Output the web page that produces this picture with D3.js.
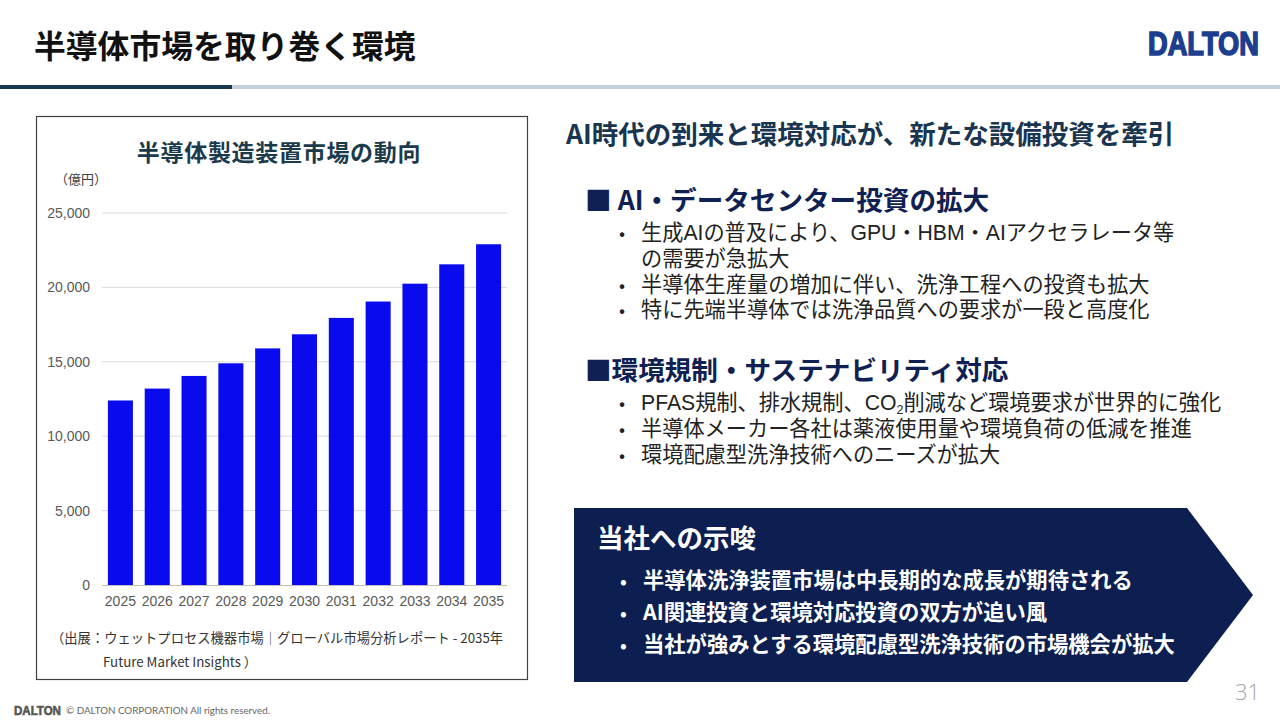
<!DOCTYPE html>
<html lang="ja">
<head>
<meta charset="utf-8">
<script src="https://cdn.jsdelivr.net/npm/d3@7"></script>
<style>
  body { margin: 0; background: #fff; }
  svg { display: block; }
</style>
</head>
<body>
<div id="slide"></div>
<script>
// chart data
const years = ["2025", "2026", "2027", "2028", "2029", "2030", "2031", "2032", "2033", "2034", "2035"]
const marketValues = [12400, 13200, 14050, 14900, 15900, 16850, 17950, 19050, 20250, 21550, 22900]
const yTicks = [0, 5000, 10000, 15000, 20000, 25000]

// slide texts
const pageTitle = "半導体市場を取り巻く環境"
const chartTitle = "半導体製造装置市場の動向"
const unitLabel = "（億円）"
const sourceLines = ["（出展：ウェットプロセス機器市場｜グローバル市場分析レポート - 2035年", "Future Market Insights ）"]
const leadText = "AI時代の到来と環境対応が、新たな設備投資を牽引"
const section1Title = "■ AI・データセンター投資の拡大"
const section1Items = [
    ["生成AIの普及により、GPU・HBM・AIアクセラレータ等", "の需要が急拡大"],
    ["半導体生産量の増加に伴い、洗浄工程への投資も拡大"],
    ["特に先端半導体では洗浄品質への要求が一段と高度化"]
]
const section2Title = "■環境規制・サステナビリティ対応"
const section2Items = [
    ["PFAS規制、排水規制、CO|2|削減など環境要求が世界的に強化"],
    ["半導体メーカー各社は薬液使用量や環境負荷の低減を推進"],
    ["環境配慮型洗浄技術へのニーズが拡大"]
]
const boxTitle = "当社への示唆"
const boxItems = [
    "半導体洗浄装置市場は中長期的な成長が期待される",
    "AI関連投資と環境対応投資の双方が追い風",
    "当社が強みとする環境配慮型洗浄技術の市場機会が拡大"
]
const pageNumber = "31"

const JP = "'Noto Sans CJK JP', 'Noto Sans', sans-serif"
const LAT = "'Liberation Sans', 'Noto Sans CJK JP', sans-serif"
const NAVY = "#0c1f50"

const W = 1280, H = 720
const svg = d3.select("#slide").append("svg")
    .attr("width", W)
    .attr("height", H)
    .attr("viewBox", `0 0 ${W} ${H}`)

// ---- header ----
svg.append("text")
    .attr("x", 34).attr("y", 58)
    .attr("font-family", JP).attr("font-weight", 700)
    .attr("font-size", 31.8).attr("fill", "#111")
    .text(pageTitle)

svg.append("rect").attr("x", 232).attr("y", 85).attr("width", W - 232).attr("height", 4).attr("fill", "#c5d0da")
svg.append("rect").attr("x", 0).attr("y", 85).attr("width", 232).attr("height", 4).attr("fill", "#16394f")

// logo word, squeezed horizontally to the wanted width
const logo = (g, x, y, w, size, color, sw) => {
    const lg = g.append("g")
    const t = lg.append("text")
        .attr("font-family", "'Liberation Sans', sans-serif").attr("font-weight", 700)
        .attr("font-size", size).attr("fill", color)
        .attr("stroke", color).attr("stroke-width", sw)
        .text("DALTON")
    const sx = w / t.node().getComputedTextLength()
    lg.attr("transform", `translate(${x},${y}) scale(${sx},1)`)
}
logo(svg, 1148, 55, 111, 33, "#1b3f8e", 1.6)

// ---- chart panel ----
svg.append("rect")
    .attr("x", 36.5).attr("y", 116.5).attr("width", 491).attr("height", 563)
    .attr("fill", "#fff").attr("stroke", "#404040").attr("stroke-width", 1.2)

svg.append("text")
    .attr("x", 279).attr("y", 161)
    .attr("text-anchor", "middle")
    .attr("font-family", JP).attr("font-weight", 700)
    .attr("font-size", 23).attr("letter-spacing", 0.7).attr("fill", "#1b3a4b")
    .text(chartTitle)

svg.append("text")
    .attr("x", 55).attr("y", 184)
    .attr("font-family", JP).attr("font-size", 13).attr("fill", "#404040")
    .text(unitLabel)

const plot = { left: 102, right: 507, top: 213, bottom: 585 }

const x = d3.scaleBand()
    .domain(years)
    .range([plot.left, plot.right])
    .paddingInner(0.32)
    .paddingOuter(0.16)

const y = d3.scaleLinear()
    .domain([0, 25000])
    .range([plot.bottom, plot.top])

// gridlines
svg.append("g")
    .selectAll("line")
    .data(yTicks.slice(1))
    .enter()
    .append("line")
    .attr("x1", plot.left).attr("x2", plot.right)
    .attr("y1", d => y(d)).attr("y2", d => y(d))
    .attr("stroke", "#d9d9d9").attr("stroke-width", 1)

// y axis labels
const yAxis = svg.append("g")
    .attr("transform", `translate(${plot.left},0)`)
    .call(d3.axisLeft(y).tickValues(yTicks).tickSize(0).tickPadding(12).tickFormat(d3.format(",")))
yAxis.select(".domain").remove()
yAxis.selectAll("text")
    .attr("font-family", LAT).attr("font-size", 14).attr("fill", "#595959")

// bars
svg.append("g")
    .selectAll("rect")
    .data(marketValues)
    .enter()
    .append("rect")
    .attr("x", (_d, i) => x(years[i]))
    .attr("y", d => y(d))
    .attr("width", x.bandwidth())
    .attr("height", d => y(0) - y(d))
    .attr("fill", "#0a0aee")

// x axis
const xAxis = svg.append("g")
    .attr("transform", `translate(0,${plot.bottom})`)
    .call(d3.axisBottom(x).tickSize(0).tickPadding(11))
xAxis.select(".domain")
    .attr("stroke", "#bfbfbf").attr("d", `M${plot.left},0.5H${plot.right}`)
xAxis.selectAll("text")
    .attr("font-family", LAT).attr("font-size", 14).attr("fill", "#595959")

// source note
svg.append("g")
    .selectAll("text")
    .data(sourceLines)
    .enter()
    .append("text")
    .attr("x", (_d, i) => i === 0 ? 51 : 103)
    .attr("y", (_d, i) => 643 + i * 24)
    .attr("font-family", JP).attr("font-size", 13.3).attr("fill", "#333")
    .text(d => d)

// ---- right column ----
svg.append("text")
    .attr("x", 566).attr("y", 144)
    .attr("font-family", JP).attr("font-weight", 700)
    .attr("font-size", 26.5).attr("fill", "#1a3550")
    .text(leadText)

const section = (title, items, top, titleSize) => {
    svg.append("text")
        .attr("x", 585).attr("y", top)
        .attr("font-family", JP).attr("font-weight", 700)
        .attr("font-size", titleSize).attr("fill", "#0f2152")
        .text(title)
    let row = 0
    items.forEach(lines => {
        lines.forEach((line, li) => {
            const ly = top + 30 + row * 25.8
            if (li === 0) {
                svg.append("text")
                    .attr("x", 619).attr("y", ly)
                    .attr("font-family", JP).attr("font-size", 18).attr("fill", "#222")
                    .text("•")
            }
            const t = svg.append("text")
                .attr("x", 641).attr("y", ly)
                .attr("font-family", LAT).attr("font-size", 21.2).attr("fill", "#222")
            // "|" marks a subscript run
            line.split("|").forEach((part, pi) => {
                const span = t.append("tspan").text(part)
                if (pi % 2 === 1) span.attr("font-size", 12.5).attr("dy", 4)
                else if (pi > 0) span.attr("dy", -4)
            })
            row += 1
        })
    })
}
section(section1Title, section1Items, 210, 26.6)
section(section2Title, section2Items, 380, 26.6)

// ---- implication box ----
const arrow = d3.path()
arrow.moveTo(574, 508)
arrow.lineTo(1187, 508)
arrow.lineTo(1253, 595)
arrow.lineTo(1187, 682)
arrow.lineTo(574, 682)
arrow.closePath()
svg.append("path").attr("d", arrow.toString()).attr("fill", NAVY)

svg.append("text")
    .attr("x", 597).attr("y", 548)
    .attr("font-family", JP).attr("font-weight", 700)
    .attr("font-size", 26.5).attr("fill", "#fff")
    .text(boxTitle)

const boxRows = svg.append("g")
    .selectAll("g")
    .data(boxItems)
    .enter()
    .append("g")
    .attr("transform", (_d, i) => `translate(0,${588 + i * 32})`)
boxRows.append("text")
    .attr("x", 620)
    .attr("font-family", JP).attr("font-weight", 700).attr("font-size", 18).attr("fill", "#fff")
    .text("•")
boxRows.append("text")
    .attr("x", 643)
    .attr("font-family", JP).attr("font-weight", 700).attr("font-size", 21.3).attr("fill", "#fff")
    .text(d => d)

// ---- footer ----
svg.append("text")
    .attr("x", 1260).attr("y", 700)
    .attr("text-anchor", "end")
    .attr("font-family", "'Open Sans', sans-serif").attr("font-weight", 300)
    .attr("font-size", 22).attr("fill", "#a6a6a6")
    .text(pageNumber)

const foot = svg.append("g")
logo(foot, 14, 715, 47, 13, "#555", 0.6)
foot.append("text")
    .attr("x", 66).attr("y", 714)
    .attr("font-family", "'Lato', sans-serif")
    .attr("font-size", 9.8).attr("fill", "#666")
    .text("© DALTON CORPORATION All rights reserved.")
</script>
</body>
</html>
